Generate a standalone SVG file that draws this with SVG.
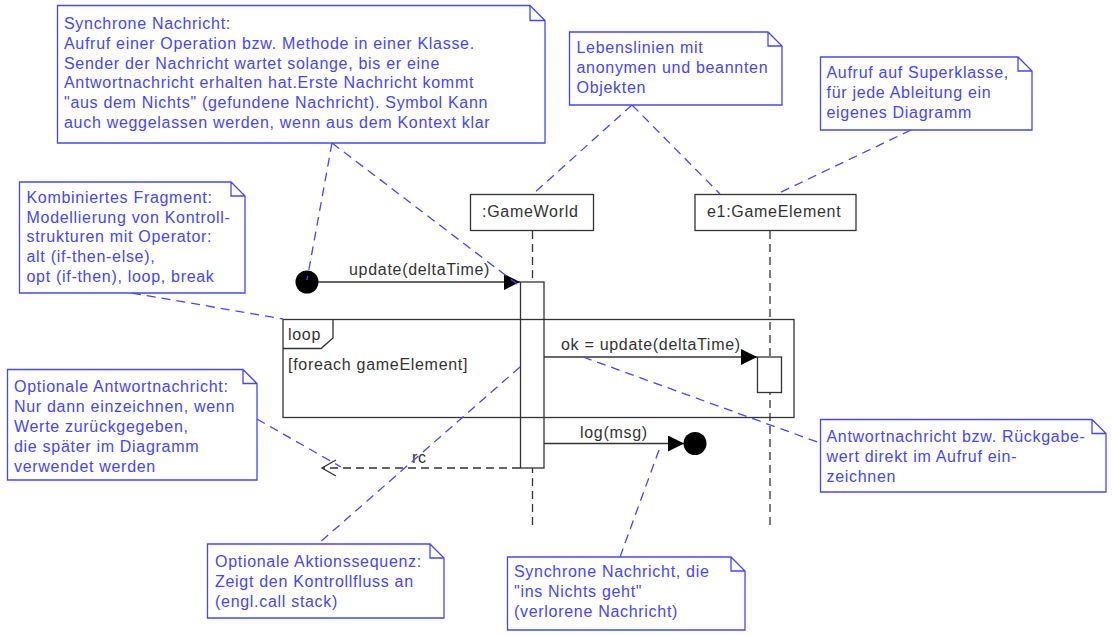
<svg xmlns="http://www.w3.org/2000/svg" width="1112" height="636" viewBox="0 0 1112 636">
<style>
text{font-family:"Liberation Sans",Arial,sans-serif;font-size:16px;letter-spacing:0.7px}
.note path{fill:#fff;stroke:#4646ff;stroke-width:1.3}
.note text{fill:#4646ff}
.dk{fill:none;stroke:#333;stroke-width:1.3}
.box{fill:#fff;stroke:#333;stroke-width:1.3}
.lbl{fill:#333}
.life{fill:none;stroke:#333;stroke-width:1.3;stroke-dasharray:8,5}
.link{fill:none;stroke:#4646ff;stroke-width:1.3;stroke-dasharray:9,6}
.msg{fill:none;stroke:#333;stroke-width:1.3}
.ret{fill:none;stroke:#333;stroke-width:1.3;stroke-dasharray:8,5}
</style>
<defs>
<marker id="filled" markerUnits="userSpaceOnUse" markerWidth="17" markerHeight="18" refX="16" refY="8" orient="auto" viewBox="0 0 17 18">
<path d="M0,0 L16,8 L0,16 Z" fill="#000"/>
</marker>
<marker id="open" markerUnits="userSpaceOnUse" markerWidth="18" markerHeight="20" refX="15" refY="9" orient="auto" viewBox="0 0 18 20">
<path d="M1,1 L15,9 L1,17" fill="none" stroke="#333" stroke-width="1.3"/>
</marker>
</defs>

<g id="lifeline-gameworld">
<line class="life" x1="532.5" y1="231" x2="532.5" y2="529"/>
<rect class="box" x="470.5" y="194.5" width="123" height="36"/>
<text class="lbl" x="482" y="217">:GameWorld</text>
<rect class="box" x="520.5" y="282" width="23.5" height="186"/>
</g>

<g id="lifeline-gameelement">
<line class="life" x1="770" y1="231" x2="770" y2="530"/>
<rect class="box" x="695" y="194.5" width="161" height="36"/>
<text class="lbl" x="707" y="217">e1:GameElement</text>
<rect class="box" x="757.5" y="357" width="24" height="35.5"/>
</g>

<g id="fragment-loop">
<rect class="dk" x="283" y="319.5" width="511" height="98"/>
<path class="dk" d="M283,348.5 L321,348.5 L333,338 L333,319.5"/>
<text class="lbl" x="288" y="340">loop</text>
<text class="lbl" x="288" y="370">[foreach gameElement]</text>
</g>

<g id="found-start">
<circle cx="307" cy="282" r="11.5" fill="#000"/>
</g>
<g id="lost-end">
<circle cx="695" cy="443.5" r="11.5" fill="#000"/>
</g>

<g id="connectors">
<line class="msg" x1="318" y1="282" x2="520" y2="282" marker-end="url(#filled)"/>
<text class="lbl" x="349" y="275">update(deltaTime)</text>
<line class="msg" x1="544" y1="357" x2="757" y2="357" marker-end="url(#filled)"/>
<text class="lbl" x="561" y="350">ok = update(deltaTime)</text>
<line class="msg" x1="544" y1="443.5" x2="684" y2="443.5" marker-end="url(#filled)"/>
<text class="lbl" x="580" y="438">log(msg)</text>
<line class="ret" x1="520" y1="468" x2="322" y2="468" marker-end="url(#open)"/>
<text class="lbl" x="412" y="463">rc</text>

<line class="link" x1="332" y1="143" x2="307" y2="280"/>
<line class="link" x1="332" y1="143" x2="517" y2="284"/>
<line class="link" x1="632" y1="105" x2="533" y2="194"/>
<line class="link" x1="632" y1="105" x2="720" y2="194"/>
<line class="link" x1="911" y1="130" x2="777" y2="194"/>
<line class="link" x1="132" y1="293" x2="283" y2="319"/>
<line class="link" x1="257" y1="419" x2="341" y2="467"/>
<line class="link" x1="520" y1="367" x2="318" y2="544"/>
<line class="link" x1="659" y1="450" x2="620" y2="557"/>
<line class="link" x1="583" y1="357" x2="820" y2="443"/>
</g>

<g id="note-synchrone-nachricht" class="note">
<path d="M57.5,5.5 H530 L545,20.5 V143 H57.5 Z M530,5.5 V20.5 H545"/>
<text x="64" y="29">Synchrone Nachricht:</text>
<text x="64" y="48.8">Aufruf einer Operation bzw. Methode in einer Klasse.</text>
<text x="64" y="68.6">Sender der Nachricht wartet solange, bis er eine</text>
<text x="64" y="88.4">Antwortnachricht erhalten hat.Erste Nachricht kommt</text>
<text x="64" y="108.2">"aus dem Nichts" (gefundene Nachricht). Symbol Kann</text>
<text x="64" y="128">auch weggelassen werden, wenn aus dem Kontext klar</text>
</g>

<g id="note-lebenslinien" class="note">
<path d="M569.5,32 H768 L782,46 V105 H569.5 Z M768,32 V46 H782"/>
<text x="576.5" y="53">Lebenslinien mit</text>
<text x="576.5" y="73">anonymen und beannten</text>
<text x="576.5" y="93">Objekten</text>
</g>

<g id="note-superklasse" class="note">
<path d="M820.5,57 H1018 L1032,71 V130 H820.5 Z M1018,57 V71 H1032"/>
<text x="826.5" y="78">Aufruf auf Superklasse,</text>
<text x="826.5" y="98">für jede Ableitung ein</text>
<text x="826.5" y="118">eigenes Diagramm</text>
</g>

<g id="note-kombiniertes-fragment" class="note">
<path d="M19.5,182 H231 L245,196 V293 H19.5 Z M231,182 V196 H245"/>
<text x="26.5" y="203">Kombiniertes Fragment:</text>
<text x="26.5" y="222.7">Modellierung von Kontroll-</text>
<text x="26.5" y="242.4">strukturen mit Operator:</text>
<text x="26.5" y="262.1">alt (if-then-else),</text>
<text x="26.5" y="281.8">opt (if-then), loop, break</text>
</g>

<g id="note-optionale-antwort" class="note">
<path d="M7.5,369.5 H243 L257,383.5 V480 H7.5 Z M243,369.5 V383.5 H257"/>
<text x="14" y="392">Optionale Antwortnachricht:</text>
<text x="14" y="412">Nur dann einzeichnen, wenn</text>
<text x="14" y="432">Werte zurückgegeben,</text>
<text x="14" y="452">die später im Diagramm</text>
<text x="14" y="472">verwendet werden</text>
</g>

<g id="note-antwortnachricht-rueckgabe" class="note">
<path d="M820.5,419.5 H1092 L1106,433.5 V492 H820.5 Z M1092,419.5 V433.5 H1106"/>
<text x="826.5" y="442">Antwortnachricht bzw. Rückgabe-</text>
<text x="826.5" y="462">wert direkt im Aufruf ein-</text>
<text x="826.5" y="482">zeichnen</text>
</g>

<g id="note-aktionssequenz" class="note">
<path d="M207.5,544 H430 L444,558 V618 H207.5 Z M430,544 V558 H444"/>
<text x="215" y="567">Optionale Aktionssequenz:</text>
<text x="215" y="587">Zeigt den Kontrollfluss an</text>
<text x="215" y="607">(engl.call stack)</text>
</g>

<g id="note-verlorene-nachricht" class="note">
<path d="M507.5,557 H731 L745,571 V630 H507.5 Z M731,557 V571 H745"/>
<text x="514" y="577">Synchrone Nachricht, die</text>
<text x="514" y="597">"ins Nichts geht"</text>
<text x="514" y="617">(verlorene Nachricht)</text>
</g>
</svg>
